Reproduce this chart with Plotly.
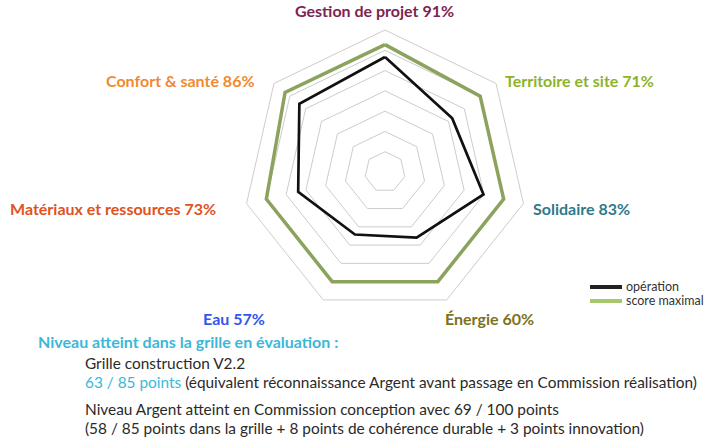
import plotly.graph_objects as go

# axes, clockwise from the top
themes = ["Gestion de projet", "Territoire et site", "Solidaire", "Énergie",
          "Eau", "Matériaux et ressources", "Confort & santé"]
pct = [91, 71, 83, 60, 57, 73, 86]
operation = [5.67, 4.24, 4.98, 3.59, 3.42, 4.39, 5.40]
score_max = [6.28, 6.0, 6.0, 6.0, 6.0, 6.0, 6.3]
label_colors = ["#7d2452", "#8db32b", "#2e7a8c", "#7a7220",
                "#3355ee", "#e0521e", "#f08a30"]

W, H = 718, 443
FONT = "Lato"


def px(x, y):
    return x / W, 1 - y / H


fig = go.Figure()
fig.add_trace(go.Scatterpolar(
    r=score_max + score_max[:1], theta=themes + themes[:1], mode="lines",
    line=dict(color="#8ca35e", width=3.5), name="score maximal",
    showlegend=False))
fig.add_trace(go.Scatterpolar(
    r=operation + operation[:1], theta=themes + themes[:1], mode="lines",
    line=dict(color="#111111", width=2.7), name="opération",
    showlegend=False))

# centre (385, 172), outer radius 142 px
cx, cy, R = 385, 172, 142
fig.update_layout(
    width=W, height=H, margin=dict(l=0, r=0, t=0, b=0),
    paper_bgcolor="white", plot_bgcolor="white",
    font=dict(family=FONT),
    polar=dict(
        domain=dict(x=[(cx - R) / W, (cx + R) / W],
                    y=[1 - (cy + R) / H, 1 - (cy - R) / H]),
        bgcolor="white", gridshape="linear",
        radialaxis=dict(range=[0, 7], dtick=1, showticklabels=False, ticks="",
                        showline=False, gridcolor="#cccccc", gridwidth=1),
        angularaxis=dict(rotation=90, direction="clockwise", showgrid=False,
                         showticklabels=False, ticks="", showline=True,
                         linecolor="#cccccc", linewidth=1),
    ),
)

# theme labels around the chart
label_pos = [(374, 11, "center"), (503, 81, "left"), (531, 208, "left"),
             (443, 318, "left"), (267, 318, "right"), (218, 208, "right"),
             (257, 81, "right")]
for name, p, col, (x, y, al) in zip(themes, pct, label_colors, label_pos):
    ax, ay = px(x, y)
    fig.add_annotation(x=ax, y=ay, xref="paper", yref="paper", showarrow=False,
                       text=f"<b>{name} {p}%</b>", xanchor=al, yanchor="middle",
                       font=dict(size=16, color=col, family=FONT))

# legend
for (y, col, txt) in [(287, "#222222", "opération"), (301, "#a5c96a", "score maximal")]:
    x0, y0 = px(590, y)
    x1, _ = px(622, y)
    fig.add_shape(type="line", xref="paper", yref="paper", x0=x0, x1=x1, y0=y0, y1=y0,
                  line=dict(color=col, width=4))
    tx, ty = px(624, y - 1)
    fig.add_annotation(x=tx, y=ty, xref="paper", yref="paper", showarrow=False,
                       text=txt, xanchor="left", yanchor="middle",
                       font=dict(size=12.5, color="#333333", family=FONT))

# notes under the chart
cyan = "#3bb8d8"
notes = [
    (36, 341, f"<b><span style='color:{cyan}'>Niveau atteint dans la grille en évaluation :</span></b>", 16),
    (83, 363, "Grille construction V2.2", 15.4),
    (83, 382, f"<span style='color:{cyan}'>63 / 85 points</span> (équivalent réconnaissance Argent avant passage en Commission réalisation)", 15.4),
    (83, 409, "Niveau Argent atteint en Commission conception avec 69 / 100 points", 15.4),
    (83, 428, "(58 / 85 points dans la grille + 8 points de cohérence durable + 3 points innovation)", 15.4),
]
for x, y, txt, size in notes:
    ax, ay = px(x, y)
    fig.add_annotation(x=ax, y=ay, xref="paper", yref="paper", showarrow=False,
                       text=txt, xanchor="left", yanchor="middle",
                       font=dict(size=size, color="#2a2a2a", family=FONT))

# page has an 8px body margin by default; drop it so the figure sits at 0,0
fig.write_html("out.html", config={"displayModeBar": False},
               post_script="document.body.style.margin='0';")
